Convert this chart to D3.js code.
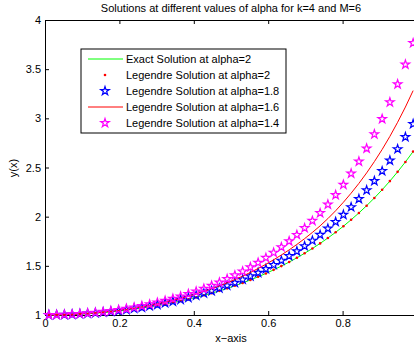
<!DOCTYPE html>
<html>
<head>
<meta charset="utf-8">
<script src="https://cdn.jsdelivr.net/npm/d3@7/dist/d3.min.js"></script>
<style>
  html, body { margin: 0; padding: 0; background: #fff; }
  svg { display: block; font-family: "Liberation Sans", Arial, sans-serif; }
</style>
</head>
<body>
<svg id="chart" width="414" height="350"></svg>
<script>
// Collocation abscissae (48 points on (0,1))
const xs = [0.0104, 0.0313, 0.0521, 0.0729, 0.0938, 0.1146, 0.1354, 0.1563, 0.1771, 0.1979,
  0.2188, 0.2396, 0.2604, 0.2813, 0.3021, 0.3229, 0.3438, 0.3646, 0.3854, 0.4063,
  0.4271, 0.4479, 0.4688, 0.4896, 0.5104, 0.5313, 0.5521, 0.5729, 0.5938, 0.6146,
  0.6354, 0.6563, 0.6771, 0.6979, 0.7188, 0.7396, 0.7604, 0.7813, 0.8021, 0.8229,
  0.8438, 0.8646, 0.8854, 0.9063, 0.9271, 0.9479, 0.9688, 0.9896];

// Exact solution at alpha = 2 (also the Legendre solution at alpha = 2)
const exactA2 = [1.0001, 1.0010, 1.0027, 1.0053, 1.0088, 1.0132, 1.0185, 1.0247, 1.0319, 1.0399,
  1.0490, 1.0591, 1.0702, 1.0823, 1.0955, 1.1099, 1.1254, 1.1422, 1.1601, 1.1795,
  1.2001, 1.2222, 1.2457, 1.2709, 1.2976, 1.3261, 1.3563, 1.3885, 1.4227, 1.4589,
  1.4974, 1.5383, 1.5816, 1.6276, 1.6763, 1.7280, 1.7829, 1.8411, 1.9028, 1.9684,
  2.0379, 2.1117, 2.1901, 2.2734, 2.3619, 2.4560, 2.5561, 2.6625];
const legA2 = exactA2.slice();

// Legendre solution at alpha = 1.8
const legA18 = [1.0001, 1.0011, 1.0030, 1.0058, 1.0096, 1.0144, 1.0202, 1.0270, 1.0348, 1.0436,
  1.0535, 1.0646, 1.0767, 1.0900, 1.1046, 1.1204, 1.1375, 1.1559, 1.1758, 1.1971,
  1.2200, 1.2444, 1.2706, 1.2986, 1.3284, 1.3602, 1.3941, 1.4302, 1.4685, 1.5094,
  1.5528, 1.5990, 1.6482, 1.7005, 1.7561, 1.8152, 1.8787, 1.9470, 2.0197, 2.0971,
  2.1800, 2.2683, 2.3628, 2.4635, 2.5715, 2.6867, 2.8100, 2.9422];

// Legendre solution at alpha = 1.6
const legA16 = [1.0001, 1.0012, 1.0032, 1.0063, 1.0104, 1.0156, 1.0219, 1.0292, 1.0377, 1.0473,
  1.0581, 1.0701, 1.0833, 1.0978, 1.1137, 1.1309, 1.1496, 1.1698, 1.1916, 1.2150,
  1.2402, 1.2671, 1.2960, 1.3269, 1.3599, 1.3952, 1.4329, 1.4730, 1.5159, 1.5616,
  1.6103, 1.6623, 1.7176, 1.7767, 1.8397, 1.9068, 1.9801, 2.0603, 2.1464, 2.2389,
  2.3383, 2.4450, 2.5598, 2.6834, 2.8165, 2.9600, 3.1147, 3.2818];

// Legendre solution at alpha = 1.4
const legA14 = [1.0001, 1.0013, 1.0035, 1.0069, 1.0115, 1.0172, 1.0241, 1.0322, 1.0416, 1.0522,
  1.0642, 1.0775, 1.0922, 1.1083, 1.1260, 1.1452, 1.1660, 1.1886, 1.2130, 1.2393,
  1.2676, 1.2980, 1.3306, 1.3656, 1.4031, 1.4433, 1.4862, 1.5322, 1.5814, 1.6340,
  1.6903, 1.7505, 1.8148, 1.8837, 1.9574, 2.0362, 2.1235, 2.2205, 2.3254, 2.4387,
  2.5613, 2.6940, 2.8378, 2.9938, 3.1632, 3.3472, 3.5474, 3.7654];

const xTicks = [0, 0.2, 0.4, 0.6, 0.8];
const yTicks = [1, 1.5, 2, 2.5, 3, 3.5, 4];
const legendLabels = [
  "Exact Solution at alpha=2",
  "Legendre Solution at alpha=2",
  "Legendre Solution at alpha=1.8",
  "Legendre Solution at alpha=1.6",
  "Legendre Solution at alpha=1.4"
];
const titleText = "Solutions at different values of alpha for k=4 and M=6";

const svg = d3.select("#chart");
const margin = { left: 45, top: 20, right: 417, bottom: 315 };

const x = d3.scaleLinear().domain([0, 1]).range([margin.left, margin.right]);
const y = d3.scaleLinear().domain([1, 4]).range([margin.bottom, margin.top]);

const pts = arr => arr.map((v, i) => [xs[i], v]);

// pentagram outline marker
function starPath(R) {
  const r = R * 0.382;
  const p = d3.path();
  for (let k = 0; k < 10; k++) {
    const ang = -Math.PI / 2 + k * Math.PI / 5;
    const rad = k % 2 === 0 ? R : r;
    const px = rad * Math.cos(ang), py = rad * Math.sin(ang);
    if (k === 0) p.moveTo(px, py); else p.lineTo(px, py);
  }
  p.closePath();
  return p.toString();
}
const STAR = starPath(4.5);

const line = d3.line().x(d => x(d[0])).y(d => y(d[1]));

// axes frame with inward ticks
const axisG = svg.append("g");
const xAxisB = d3.axisBottom(x).tickValues(xTicks).tickSizeInner(-4).tickSizeOuter(0)
  .tickFormat(d => d3.format("")(d));
const xAxisT = d3.axisTop(x).tickValues(xTicks).tickSizeInner(-4).tickSizeOuter(0).tickFormat("");
const yAxisL = d3.axisLeft(y).tickValues(yTicks).tickSizeInner(-4).tickSizeOuter(0)
  .tickFormat(d => d3.format("")(d));

const gb = axisG.append("g").attr("transform", `translate(0,${margin.bottom})`).call(xAxisB);
const gt = axisG.append("g").attr("transform", `translate(0,${margin.top})`).call(xAxisT);
const gl = axisG.append("g").attr("transform", `translate(${margin.left},0)`).call(yAxisL);
[gb, gt, gl].forEach(g => {
  g.select(".domain").attr("stroke", "#000").attr("stroke-width", 1);
  g.selectAll(".tick line").attr("stroke", "#000");
  g.selectAll("text").attr("fill", "#000").attr("font-size", 11)
    .attr("font-family", "Liberation Sans, Arial, sans-serif");
});
gb.selectAll(".tick text").attr("dy", "0.55em").attr("y", 6);
gl.selectAll(".tick text").attr("x", -4);

// series
const plot = svg.append("g");
plot.append("path").datum(pts(exactA2)).attr("d", line)
  .attr("fill", "none").attr("stroke", "#00ff00").attr("stroke-width", 1);
plot.append("g").selectAll("circle").data(pts(legA2)).join("circle")
  .attr("cx", d => x(d[0])).attr("cy", d => y(d[1])).attr("r", 1.3).attr("fill", "#ff0000");
plot.append("g").selectAll("path").data(pts(legA18)).join("path")
  .attr("d", STAR).attr("transform", d => `translate(${x(d[0])},${y(d[1])})`)
  .attr("fill", "none").attr("stroke", "#0000ff").attr("stroke-width", 1.2);
plot.append("path").datum(pts(legA16)).attr("d", line)
  .attr("fill", "none").attr("stroke", "#ff0000").attr("stroke-width", 1);
plot.append("g").selectAll("path").data(pts(legA14)).join("path")
  .attr("d", STAR).attr("transform", d => `translate(${x(d[0])},${y(d[1])})`)
  .attr("fill", "none").attr("stroke", "#ff00ff").attr("stroke-width", 1.2);

// legend
const lg = svg.append("g");
lg.append("rect").attr("x", 81).attr("y", 49).attr("width", 205).attr("height", 84)
  .attr("fill", "#fff").attr("stroke", "#000").attr("stroke-width", 1);
const rowY = [59, 75, 91, 107, 123];
const kinds = [
  { t: "line", c: "#00ff00" },
  { t: "dot", c: "#ff0000" },
  { t: "star", c: "#0000ff" },
  { t: "line", c: "#ff0000" },
  { t: "star", c: "#ff00ff" }
];
kinds.forEach((k, i) => {
  const yy = rowY[i];
  if (k.t === "line") {
    lg.append("line").attr("x1", 88).attr("x2", 123).attr("y1", yy).attr("y2", yy)
      .attr("stroke", k.c).attr("stroke-width", 1);
  } else if (k.t === "dot") {
    lg.append("circle").attr("cx", 105).attr("cy", yy).attr("r", 1.3).attr("fill", k.c);
  } else {
    lg.append("path").attr("d", STAR).attr("transform", `translate(105,${yy})`)
      .attr("fill", "none").attr("stroke", k.c).attr("stroke-width", 1.2);
  }
  lg.append("text").attr("x", 126).attr("y", yy).attr("dy", "0.35em")
    .attr("font-size", 11).attr("fill", "#000").text(legendLabels[i]);
});

// title and axis labels
svg.append("text").attr("x", 231).attr("y", 12).attr("text-anchor", "middle")
  .attr("font-size", 11).attr("fill", "#000").text(titleText);
svg.append("text").attr("x", 231).attr("y", 342).attr("text-anchor", "middle")
  .attr("font-size", 11).attr("fill", "#000").text("x\u2212axis");
svg.append("text").attr("transform", "translate(17,168) rotate(-90)")
  .attr("text-anchor", "middle").attr("font-size", 11).attr("fill", "#000").text("y(x)");
</script>
</body>
</html>
